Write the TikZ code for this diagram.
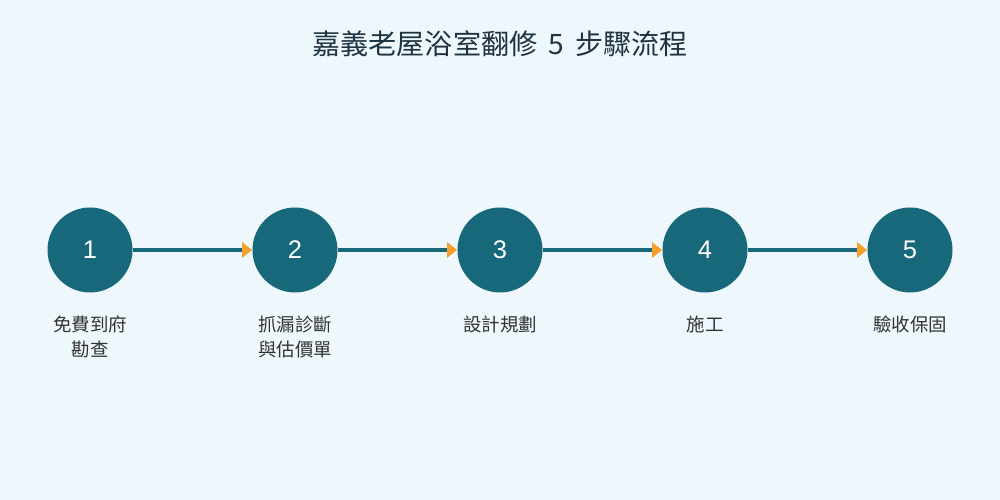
\documentclass[tikz,border=0pt]{standalone}
\usepackage{fontspec}
\setmainfont{Liberation Sans}
\newfontfamily\cjk{Noto Sans CJK TC}
\usepackage{xcolor}
\usetikzlibrary{arrows.meta,positioning}
\definecolor{bgcol}{HTML}{EEF7FB}
\definecolor{stepcol}{HTML}{17687A}
\definecolor{tipcol}{HTML}{F5A02C}
\definecolor{textcol}{HTML}{333333}
\definecolor{titlecol}{HTML}{1F3442}

\begin{document}
\begin{tikzpicture}[
    node distance=4.1cm,
    stepnode/.style={circle, fill=stepcol, minimum size=1.7cm, inner sep=0pt, text=white, font=\fontsize{14.5}{16}\selectfont},
    arrow/.style={-{Triangle[length=0.2cm, width=0.3cm, color=tipcol]}, line width=0.09cm, draw=stepcol},
    desc/.style={font=\cjk\fontsize{10.5}{14.2}\selectfont, text=textcol, align=center, inner sep=0pt}
]
    % Background
    \fill[bgcol] (0,0) rectangle (20,10);
    \useasboundingbox (0,0) rectangle (20,10);

    % Title
    \node[font=\cjk\fontsize{16}{18}\selectfont, text=titlecol] (title) at (10,9.12) {嘉義老屋浴室翻修\ \,5\ \,步驟流程};

    % Steps
    \node[stepnode] (s1) at (1.8,5) {1};
    \node[stepnode, right of=s1] (s2) {2};
    \node[stepnode, right of=s2] (s3) {3};
    \node[stepnode, right of=s3] (s4) {4};
    \node[stepnode, right of=s4] (s5) {5};

    % Connections
    \draw[arrow] (s1) -- (s2);
    \draw[arrow] (s2) -- (s3);
    \draw[arrow] (s3) -- (s4);
    \draw[arrow] (s4) -- (s5);

    % Descriptions
    \node[desc, below=0.45cm of s1] (d1) {免費到府\\勘查};
    \node[desc, below=0.45cm of s2] (d2) {抓漏診斷\\與估價單};
    \node[desc, below=0.45cm of s3] (d3) {設計規劃};
    \node[desc, below=0.45cm of s4] (d4) {施工};
    \node[desc, below=0.45cm of s5] (d5) {驗收保固};
\end{tikzpicture}
\end{document}
